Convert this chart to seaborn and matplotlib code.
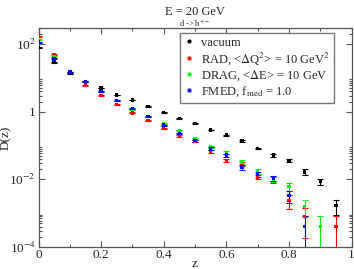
import numpy as np
import pandas as pd
import matplotlib
matplotlib.use('Agg')
import matplotlib.pyplot as plt
import seaborn as sns
from matplotlib.ticker import LogLocator, MultipleLocator, FuncFormatter, NullFormatter
from matplotlib.lines import Line2D

# z bins
z = [0.0, 0.05, 0.1, 0.15, 0.2, 0.25, 0.3, 0.35, 0.4, 0.45,
     0.5, 0.55, 0.6, 0.65, 0.7, 0.75, 0.8, 0.85, 0.9, 0.95]

# D(z) for each case
d_vac = [79, 28.3, 13.7, 7.9, 5.0, 3.16, 2.2, 1.43, 0.97, 0.64,
         0.445, 0.287, 0.204, 0.137, 0.082, 0.052, 0.0367, 0.0166, 0.0087, 0.00168]
e_vac = [2, 0.6, 0.3, 0.15, 0.1, 0.06, 0.04, 0.03, 0.02, 0.013,
         0.01, 0.007, 0.008, 0.006, 0.004, 0.005, 0.0044, 0.0031, 0.0017, 0.0008]

d_rad = [173, 49, 15, 6.15, 3.03, 1.64, 0.93, 0.547, 0.316, 0.193,
         0.137, 0.067, 0.036, 0.0293, 0.0118, 0.0098, 0.00237, 0.00079, np.nan, 0.0004]
e_rad = [5, 1.5, 0.4, 0.2, 0.1, 0.05, 0.03, 0.02, 0.012, 0.008,
         0.008, 0.006, 0.004, 0.004, 0.0018, 0.002, 0.001, 0.0006, np.nan, 0.0004]

d_drag = [134, 43, 15, 7.9, 4.0, 2.15, 1.2, 0.72, 0.445, 0.275,
          0.163, 0.092, 0.061, 0.033, 0.0173, 0.0102, 0.0062, 0.00158, 0.0004, np.nan]
e_drag = [4, 1.3, 0.4, 0.2, 0.1, 0.06, 0.035, 0.022, 0.015, 0.01,
          0.01, 0.008, 0.006, 0.004, 0.0025, 0.0017, 0.0016, 0.0008, 0.0004, np.nan]

d_fmed = [115, 36.5, 15, 7.9, 4.0, 2.15, 1.23, 0.72, 0.405, 0.229,
          0.139, 0.080, 0.052, 0.0228, 0.0145, 0.0107, 0.00327, 0.0004, np.nan, np.nan]
e_fmed = [4, 1.2, 0.4, 0.2, 0.1, 0.06, 0.035, 0.022, 0.014, 0.01,
          0.01, 0.008, 0.006, 0.0035, 0.0025, 0.002, 0.0013, 0.0004, np.nan, np.nan]

labels = ['vacuum',
          r'RAD, <$\Delta$Q$^2$> = 10 GeV$^2$',
          r'DRAG, <$\Delta$E> = 10 GeV',
          r'FMED, f$_{\rm med}$ = 1.0']
colors = ['black', 'red', '#00ee00', 'blue']

frames = []
for lab, d, e in zip(labels, [d_vac, d_rad, d_drag, d_fmed], [e_vac, e_rad, e_drag, e_fmed]):
    frames.append(pd.DataFrame({'z': z, 'D': d, 'err': e, 'model': lab}))
df = pd.concat(frames, ignore_index=True).dropna()

sns.set_style('ticks')
plt.rcParams['font.family'] = ['Liberation Serif', 'DejaVu Serif']
plt.rcParams['mathtext.fontset'] = 'stix'

fig = plt.figure(figsize=(3.54, 2.69), dpi=100)
ax = fig.add_axes([0.1088, 0.0818, 0.8842, 0.8141])

for lab, c in zip(labels, colors):
    sub = df[df['model'] == lab]
    ax.errorbar(sub['z'], sub['D'], yerr=sub['err'], fmt='none', ecolor=c,
                elinewidth=0.8, capsize=2.2, capthick=0.8)

sns.scatterplot(data=df, x='z', y='D', hue='model', hue_order=labels,
                palette=colors, marker='s', s=6, linewidth=0, legend=False,
                ax=ax, zorder=3)

ax.set_yscale('log')
ax.set_xlim(0, 1)
ax.set_ylim(1e-4, 300)

ax.xaxis.set_major_locator(MultipleLocator(0.2))
ax.xaxis.set_minor_locator(MultipleLocator(0.1))
ax.xaxis.set_major_formatter(FuncFormatter(lambda v, p: '%g' % v))
ax.yaxis.set_major_locator(LogLocator(base=100, numticks=20))
ax.yaxis.set_minor_locator(LogLocator(base=100, subs=np.arange(2, 10), numticks=20))
ax.yaxis.set_major_formatter(FuncFormatter(
    lambda v, p: '1' if abs(v - 1) < 1e-9 else r'10$^{%d}$' % round(np.log10(v))))
ax.yaxis.set_minor_formatter(NullFormatter())

ax.tick_params(which='both', direction='in', top=True, right=True,
               color='#555555', width=0.8, labelsize=9.5)
ax.tick_params(axis='x', pad=1.5)
ax.tick_params(axis='y', pad=2)
ax.tick_params(which='major', length=4)
ax.tick_params(which='minor', length=2.2)
for sp in ax.spines.values():
    sp.set_color('#555555')
    sp.set_linewidth(0.9)

ax.set_xlabel('z', fontsize=9.5)
ax.set_ylabel('D(z)', fontsize=9.5)
ax.xaxis.set_label_coords(0.5, -0.05)
ax.yaxis.set_label_coords(-0.085, 0.5)

fig.text(0.55, 0.955, 'E = 20 GeV', ha='center', va='center', fontsize=9)
fig.text(0.55, 0.915, r'd -> h$^{+-}$', ha='center', va='center', fontsize=6)

handles = [Line2D([], [], linestyle='none', marker='o', markersize=2,
                  color=c) for c in colors]
leg = ax.legend(handles, labels, loc='upper right', bbox_to_anchor=(0.944, 0.977),
                fontsize=9, frameon=True, fancybox=False, framealpha=1,
                edgecolor='#777777', handlelength=0.8, handletextpad=0.6,
                labelspacing=0.12, borderpad=0.3, borderaxespad=0)
leg.get_frame().set_linewidth(1.0)

fig.savefig('out.png', dpi=100)
